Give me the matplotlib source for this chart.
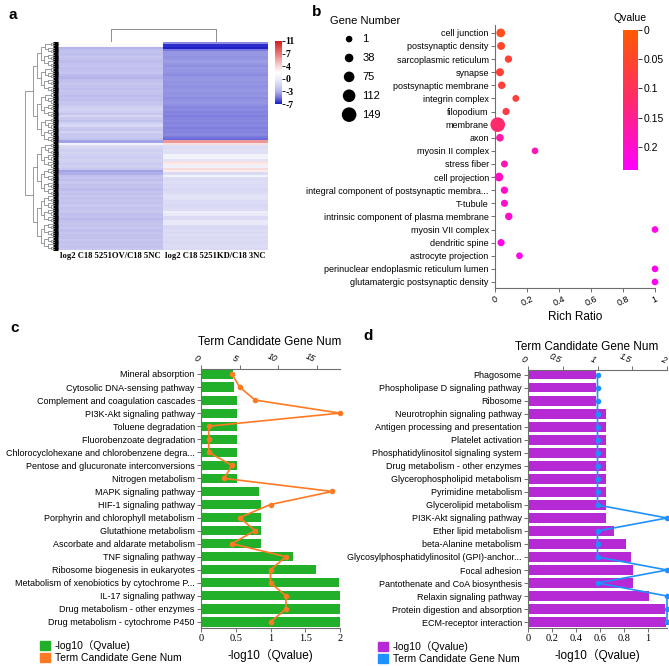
import numpy as np
import matplotlib
matplotlib.use('Agg')
import matplotlib.pyplot as plt
from matplotlib.colors import LinearSegmentedColormap, Normalize
from matplotlib.cm import ScalarMappable
from matplotlib.patches import Patch

plt.rcParams['font.family'] = ['Liberation Sans', 'Noto Sans CJK SC']

# ---------------- data ----------------
# a: heatmap, log2 fold change, two clusters of rows
heat_cols = ['log2 C18 5251OV/C18 5NC', 'log2 C18 5251KD/C18 3NC']
top_ov = [2.0, 1.5, -3.0, -2.4, -2.2, -2.4, -2.1, -2.2, -2.5, -2.2, -2.1, -2.4, -2.2, -2.1, -2.6, -2.9,
          -2.4, -2.2, -2.0, -2.2, -2.4, -2.1, -2.2, -2.5, -2.2, -2.4, -2.1, -2.0, -1.6, -1.4, -1.7, -2.1,
          -1.2, -1.9, -2.2, -1.6, -1.1, -2.0, -2.1, -1.4, -1.9, -2.0, -2.3, -3.5]
top_kd = [-4.2, -6.5, -6.8, -4.8, -3.9, -3.8, -4.0, -3.9, -3.7, -3.9, -4.1, -3.8, -3.9, -4.0, -4.2, -3.9,
          -3.8, -4.0, -3.9, -4.1, -3.9, -3.8, -4.0, -3.9, -4.2, -4.0, -3.9, -4.1, -4.4, -4.2, -4.5, -4.3,
          -4.6, -4.4, -4.2, -4.5, -4.3, -4.6, -4.4, -4.5, -4.3, -4.8, -5.2, 6.0]
bot_ov = [0.5, -1.0, -1.3, -1.6, -1.3, -1.5, -1.7, -1.4, -1.6, -1.8, -1.6, -2.0, -3.5, -3.1, -2.3, -2.1,
          -2.4, -2.0, -2.3, -2.2, -2.6, -2.1, -2.3, -2.0, -2.2, -2.1, -2.3, -1.9, -2.2, -2.1, -2.0, -2.4,
          -2.2, -2.7, -2.3, -2.1, -2.2, -2.0, -2.4, -2.1, -2.3, -2.2, -2.0, -2.3, -2.1, -2.2, -2.0]
bot_kd = [3.5, -0.8, -0.9, -0.7, -0.8, 0.5, 0.5, -0.5, 3.5, 3.0, 0.3, 3.8, 3.0, -1.0, 0.5, -0.9,
          -1.0, -0.8, -1.0, -0.9, -1.1, -1.0, -0.8, -0.5, -0.6, -1.0, -0.9, -1.1, -1.0, -0.9, 0.2, -0.2,
          -1.0, -0.9, -0.3, -0.2, -1.0, -1.1, -0.9, -1.0, -0.8, -1.0, -0.9, -1.1, -1.0, -0.9, -1.0]
heat_ticks = [-7, -3, 0, 4, 7, 11]

# b: GO cellular component bubbles
b_terms = ['cell junction', 'postsynaptic density', 'sarcoplasmic reticulum', 'synapse',
           'postsynaptic membrane', 'integrin complex', 'filopodium', 'membrane', 'axon',
           'myosin II complex', 'stress fiber', 'cell projection',
           'integral component of postsynaptic membra...', 'T-tubule',
           'intrinsic component of plasma membrane', 'myosin VII complex', 'dendritic spine',
           'astrocyte projection', 'perinuclear endoplasmic reticulum lumen',
           'glutamatergic postsynaptic density']
b_ratio = [0.036, 0.038, 0.084, 0.031, 0.042, 0.13, 0.069, 0.017, 0.031, 0.25, 0.059, 0.025,
           0.059, 0.059, 0.086, 1.0, 0.038, 0.153, 1.0, 1.0]
b_genes = [40, 25, 15, 28, 18, 6, 12, 149, 20, 2, 8, 40, 14, 10, 18, 2, 12, 4, 2, 2]
b_qvalue = [0.03, 0.05, 0.06, 0.06, 0.07, 0.07, 0.08, 0.12, 0.17, 0.18, 0.18, 0.19, 0.2, 0.2,
            0.2, 0.22, 0.22, 0.22, 0.23, 0.23]
legend_genes = [1, 38, 75, 112, 149]

# c: KEGG pathways
c_terms = ['Mineral absorption', 'Cytosolic DNA-sensing pathway', 'Complement and coagulation cascades',
           'PI3K-Akt signaling pathway', 'Toluene degradation', 'Fluorobenzoate degradation',
           'Chlorocyclohexane and chlorobenzene degra...', 'Pentose and glucuronate interconversions',
           'Nitrogen metabolism', 'MAPK signaling pathway', 'HIF-1 signaling pathway',
           'Porphyrin and chlorophyll metabolism', 'Glutathione metabolism',
           'Ascorbate and aldarate metabolism', 'TNF signaling pathway',
           'Ribosome biogenesis in eukaryotes', 'Metabolism of xenobiotics by cytochrome P...',
           'IL-17 signaling pathway', 'Drug metabolism - other enzymes',
           'Drug metabolism - cytochrome P450']
c_qlog = [0.465, 0.475, 0.52, 0.52, 0.52, 0.52, 0.52, 0.52, 0.52, 0.84, 0.87, 0.87, 0.87, 0.87,
          1.33, 1.65, 1.99, 2.0, 2.0, 2.0]
c_genes = [4, 5, 7, 18, 1, 1, 1, 4, 3, 17, 9, 5, 7, 4, 11, 9, 9, 11, 11, 9]

# d: KEGG pathways
d_terms = ['Phagosome', 'Phospholipase D signaling pathway', 'Ribosome', 'Neurotrophin signaling pathway',
           'Antigen processing and presentation', 'Platelet activation',
           'Phosphatidylinositol signaling system', 'Drug metabolism - other enzymes',
           'Glycerophospholipid metabolism', 'Pyrimidine metabolism', 'Glycerolipid metabolism',
           'PI3K-Akt signaling pathway', 'Ether lipid metabolism', 'beta-Alanine metabolism',
           'Glycosylphosphatidylinositol (GPI)-anchor...', 'Focal adhesion',
           'Pantothenate and CoA biosynthesis', 'Relaxin signaling pathway',
           'Protein digestion and absorption', 'ECM-receptor interaction']
d_qlog = [0.57, 0.57, 0.57, 0.647, 0.647, 0.647, 0.647, 0.647, 0.647, 0.647, 0.647, 0.653, 0.714,
          0.814, 0.856, 0.88, 0.88, 1.008, 1.147, 1.153]
d_genes = [1, 1, 1, 1, 1, 1, 1, 1, 1, 1, 1, 2, 1, 1, 1, 2, 1, 2, 2, 2]

W, H = 669, 666


def rect(x0, y0, x1, y1):
    # pixel box (top-left origin) -> figure fraction
    return [x0 / W, 1 - y1 / H, (x1 - x0) / W, (y1 - y0) / H]


def fxy(x, y):
    return x / W, 1 - y / H


fig = plt.figure(figsize=(W / 100, H / 100), dpi=100)
GRAY = '#6e6e6e'

# ---------------- a ----------------
heat_cmap = LinearSegmentedColormap.from_list('heat', [
    (0.0, (25/255, 25/255, 200/255)), (0.1, (115/255, 115/255, 220/255)),
    (0.2, (180/255, 180/255, 235/255)), (0.4, (238/255, 238/255, 250/255)),
    (0.5, (1, 1, 1)), (0.6, (248/255, 215/255, 215/255)),
    (0.8, (235/255, 120/255, 120/255)), (1.0, (215/255, 25/255, 25/255))])
tick_pos = np.linspace(0, 1, len(heat_ticks))
heat = np.array([top_ov + bot_ov, top_kd + bot_kd]).T
heat_pos = np.interp(heat, heat_ticks, tick_pos)
nrow = heat.shape[0]

axh = fig.add_axes(rect(58, 42, 268, 250))
axh.imshow(heat_pos, cmap=heat_cmap, vmin=0, vmax=1, aspect='auto', interpolation='nearest')
axh.set_yticks(np.arange(nrow))
axh.set_yticklabels([])
axh.tick_params(axis='y', length=3.5, width=2.2, color='black')
axh.set_xticks([])
for s in axh.spines.values():
    s.set_visible(False)
for i, name in enumerate(heat_cols):
    axh.text(i, nrow + 2.2, name, ha='center', va='center', fontsize=6.2,
             family='Liberation Serif', fontweight='bold')

# left dendrogram
axd = fig.add_axes(rect(23, 42, 55, 250), sharey=axh)
axd.set_xlim(1.0, 0)
axd.axis('off')


def draw_tree(ax, lo, hi):
    size = hi - lo
    if size == 1:
        return lo, 0.0
    mid = lo + size // 2
    y1, h1 = draw_tree(ax, lo, mid)
    y2, h2 = draw_tree(ax, mid, hi)
    h = 0.12 * np.log2(size) + 0.02
    ax.plot([h1, h, h, h2], [y1, y1, y2, y2], color='#8c8c8c', lw=0.6)
    return (y1 + y2) / 2, h


n_top = len(top_ov)
ya, ha = draw_tree(axd, 0, n_top)
yb, hb = draw_tree(axd, n_top, nrow)
axd.plot([ha, 0.95, 0.95, hb], [ya, ya, yb, yb], color='#8c8c8c', lw=0.6)

# top dendrogram
axt = fig.add_axes(rect(58, 28, 268, 42), sharex=axh)
axt.plot([0, 0, 1, 1], [0, 1, 1, 0], color='#8c8c8c', lw=0.7)
axt.set_ylim(0, 1.05)
axt.axis('off')

# heatmap colour bar
cax_a = fig.add_axes(rect(275, 41, 282, 104))
cb = fig.colorbar(ScalarMappable(norm=Normalize(0, 1), cmap=heat_cmap), cax=cax_a)
cb.outline.set_visible(False)
cb.set_ticks(tick_pos)
cb.set_ticklabels([str(t) for t in heat_ticks])
cax_a.tick_params(length=2, width=0.6, pad=0.5, labelsize=7)
for lab in cax_a.get_yticklabels():
    lab.set_family('Liberation Serif')
    lab.set_fontweight('bold')

# ---------------- b ----------------
q_cmap = LinearSegmentedColormap.from_list('q', ['#ff5a00', '#ff2a6a', '#ff00ff'])
q_norm = Normalize(0, 0.24)


def bubble_size(n):
    r = 3.3 + 4.0 * (np.asarray(n) - 1) / 148
    return (2 * r * 0.72) ** 2


axb = fig.add_axes(rect(495, 25, 655, 288))
yb_pos = np.arange(len(b_terms))
axb.scatter(b_ratio, yb_pos, s=bubble_size(b_genes), c=b_qvalue, cmap=q_cmap, norm=q_norm,
            edgecolors='none', clip_on=False, zorder=3)
axb.set_xlim(0, 1.0)
axb.set_ylim(len(b_terms) - 0.54, -0.6)
axb.set_yticks(yb_pos)
axb.set_yticklabels(b_terms, fontsize=6.5)
axb.set_xticks([0, 0.2, 0.4, 0.6, 0.8, 1.0])
axb.set_xticklabels(['0', '0.2', '0.4', '0.6', '0.8', '1'], rotation=25, fontsize=6.5)
axb.set_xlabel('Rich Ratio', fontsize=8.5, labelpad=2)
axb.tick_params(length=3, width=0.7, color=GRAY, pad=1.5)
for s in ['top', 'right']:
    axb.spines[s].set_visible(False)
for s in ['left', 'bottom']:
    axb.spines[s].set_color(GRAY)
    axb.spines[s].set_linewidth(0.8)

fig.text(*fxy(330, 21), 'Gene Number', ha='left', va='center', fontsize=8)
handles = [axb.scatter([], [], s=bubble_size(n), c='black', edgecolors='none') for n in legend_genes]
fig.legend(handles, [str(n) for n in legend_genes], loc='upper left',
           bbox_to_anchor=fxy(338, 34), frameon=False, fontsize=8, borderpad=0,
           labelspacing=0.8, handlelength=2.0, handletextpad=0.2, borderaxespad=0)

cax_b = fig.add_axes(rect(623, 30, 638, 170))
cbq = fig.colorbar(ScalarMappable(norm=q_norm, cmap=q_cmap), cax=cax_b)
cbq.outline.set_visible(False)
cax_b.invert_yaxis()
cbq.set_ticks([0, 0.05, 0.1, 0.15, 0.2])
cbq.set_ticklabels(['0', '0.05', '0.1', '0.15', '0.2'])
cax_b.tick_params(length=3, width=0.7, color='#333333', labelsize=7.5, pad=1)
fig.text(*fxy(630, 18), 'Qvalue', ha='center', va='center', fontsize=7.5)


# ---------------- c & d ----------------
def bar_panel(box, terms, qlog, genes, bar_color, line_color, xmax, xticks, xlabels,
              top_max, top_ticks, top_labels, title, title_xy, legend_xy):
    ax = fig.add_axes(rect(*box))
    y = np.arange(len(terms))
    ax.barh(y, qlog, height=0.7, color=bar_color, zorder=2)
    ax.set_xlim(0, xmax)
    ax.set_ylim(len(terms) - 0.54, -0.38)
    ax.set_yticks(y)
    ax.set_yticklabels(terms, fontsize=6.5)
    ax.set_xticks(xticks)
    ax.set_xticklabels(xlabels, fontsize=7.5, family='Liberation Serif')
    ax.tick_params(length=3, width=0.7, color=GRAY, pad=1.5)
    ax.spines['right'].set_visible(False)
    ax.spines['top'].set_visible(False)
    for s in ['left', 'bottom']:
        ax.spines[s].set_color(GRAY)
        ax.spines[s].set_linewidth(0.8)
    ax.set_xlabel('-log10（Qvalue)', fontsize=8.5, labelpad=4)

    ax2 = ax.twiny()
    ax2.plot(genes, y, color=line_color, lw=1.2, marker='o', ms=3, clip_on=False, zorder=4)
    ax2.set_xlim(0, top_max)
    ax2.set_xticks(top_ticks)
    ax2.set_xticklabels(top_labels, fontsize=6.3, style='italic', rotation=-25, ha='right')
    ax2.tick_params(length=3, width=0.7, color=GRAY, pad=1)
    for s in ['left', 'right', 'bottom']:
        ax2.spines[s].set_visible(False)
    ax2.spines['top'].set_color(GRAY)
    ax2.spines['top'].set_linewidth(0.8)
    fig.text(*fxy(*title_xy), title, ha='center', va='center', fontsize=8.5)

    fig.legend([Patch(color=bar_color), Patch(color=line_color)],
               ['-log10（Qvalue)', 'Term Candidate Gene Num'], loc='upper left',
               bbox_to_anchor=fxy(*legend_xy), frameon=False, borderpad=0,
               fontsize=7.5, handlelength=1.0, handleheight=1.0, handletextpad=0.4,
               labelspacing=0.2, borderaxespad=0)
    return ax


bar_panel((201, 369, 340, 628), c_terms, c_qlog, c_genes, '#22b02a', '#ff7a22',
          2.0, [0, 0.5, 1, 1.5, 2], ['0', '0.5', '1', '1.5', '2'],
          18, [0, 5, 10, 15], ['0', '5', '10', '15'],
          'Term Candidate Gene Num', (270, 342), (40, 640))

bar_panel((528, 370, 667, 628), d_terms, d_qlog, d_genes, '#b52ad4', '#1e90ff',
          1.16, [0, 0.2, 0.4, 0.6, 0.8, 1.0], ['0', '0.2', '0.4', '0.6', '0.8', '1'],
          2, [0, 0.5, 1, 1.5, 2], ['0', '0.5', '1', '1.5', '2'],
          'Term Candidate Gene Num', (587, 347), (378, 641))

# panel letters
for letter, x, y in [('a', 13, 15), ('b', 317, 12), ('c', 15, 328), ('d', 368, 336)]:
    fig.text(*fxy(x, y), letter, ha='center', va='center', fontsize=11, fontweight='bold')

fig.savefig('out.png', dpi=100)
